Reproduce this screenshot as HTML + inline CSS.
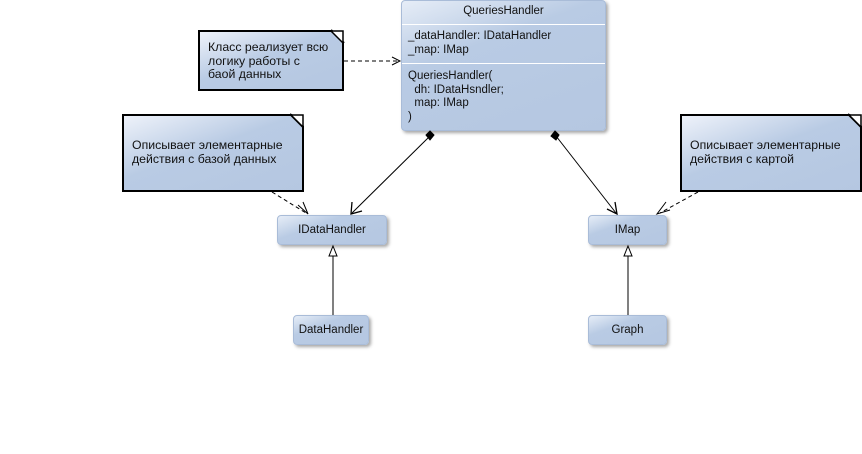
<!DOCTYPE html>
<html><head><meta charset="utf-8"><style>
body{margin:0;width:862px;height:454px;background:#fff;overflow:hidden;position:relative;font-family:"Liberation Sans","DejaVu Sans",sans-serif;font-size:11.5px;color:#111}
.b{position:absolute;background:linear-gradient(160deg,#e6edf7 0%,#b9cbe4 35%,#b5c7e1 100%);border-radius:4px;box-shadow:2px 2px 3px rgba(0,0,0,.35);box-sizing:border-box;border:1px solid #a9bcd8}
.c{text-align:center}
.n{position:absolute;background:linear-gradient(160deg,#eef2fa 0%,#b9cbe4 45%,#b5c7e1 100%);border:2px solid #000;box-sizing:border-box;padding:10px 8px;line-height:13.5px;font-size:12.3px;clip-path:polygon(0 0,calc(100% - 12px) 0,100% 12px,100% 100%,0 100%)}
.t{position:absolute;white-space:pre;line-height:13.5px}
</style></head><body>
<div class="b" style="left:401px;top:0;width:205px;height:131px"></div>
<div class="t c" style="left:401px;top:5px;width:205px">QueriesHandler</div>
<div style="position:absolute;left:402px;top:24px;width:203px;height:1px;background:#fff"></div>
<div class="t" style="left:408px;top:30px">_dataHandler: IDataHandler
_map: IMap</div>
<div style="position:absolute;left:402px;top:63px;width:203px;height:1px;background:#fff"></div>
<div class="t" style="left:408px;top:70px">QueriesHandler(
  dh: IDataHsndler;
  map: IMap
)</div>

<div class="n" style="left:198px;top:30px;width:146px;height:61px;padding-top:9px">Класс реализует всю<br>логику работы с<br>баой данных</div>
<div class="n" style="left:122px;top:114px;width:182px;height:78px;padding-top:23px">Описывает элементарные<br>действия с базой данных</div>
<div class="n" style="left:680px;top:114px;width:182px;height:78px;padding-top:23px">Описывает элементарные<br>действия с картой</div>

<div class="b c" style="left:277px;top:215px;width:110px;height:30px;line-height:28px">IDataHandler</div>
<div class="b c" style="left:588px;top:215px;width:79px;height:30px;line-height:28px">IMap</div>
<div class="b c" style="left:293px;top:315px;width:76px;height:30px;line-height:28px">DataHandler</div>
<div class="b c" style="left:588px;top:315px;width:79px;height:30px;line-height:28px">Graph</div>

<svg width="862" height="454" style="position:absolute;left:0;top:0" fill="none" stroke="#000">
<path d="M331 30 L344 43 M290 114 L303 127 M848 114 L861 127" stroke-width="2"/>
<path d="M331 31 L343 31 L343 43 Z M291 115 L303 115 L303 127 Z M849 115 L861 115 L861 127 Z" fill="#fff" stroke="#000" stroke-width="1.5"/>
<path d="M344 61 L398 61" stroke-dasharray="4,3"/>
<path d="M392 57 L400 61 L392 65" />
<path d="M272 192 L306 213" stroke-dasharray="4,3"/>
<path d="M298 205 L308 214 L303 202" />
<path d="M698 192 L660 213" stroke-dasharray="4,3"/>
<path d="M666 202 L657 214 L670 210" />
<path d="M430 136 L352 213"/>
<path d="M430 131 L434 135 L430 140 L426 135 Z" fill="#000"/>
<path d="M352 202 L351 214 L362 211" stroke-width="1.3"/>
<path d="M556 136 L616 213"/>
<path d="M555 131 L559 135 L556 140 L551 136 Z" fill="#000"/>
<path d="M607 209 L617 214 L615 202" stroke-width="1.3"/>
<path d="M333 256 L333 315 M628 256 L628 315"/>
<path d="M333 246 L337 256 L329 256 Z M628 246 L632 256 L624 256 Z" fill="#fff"/>
</svg>
</body></html>
